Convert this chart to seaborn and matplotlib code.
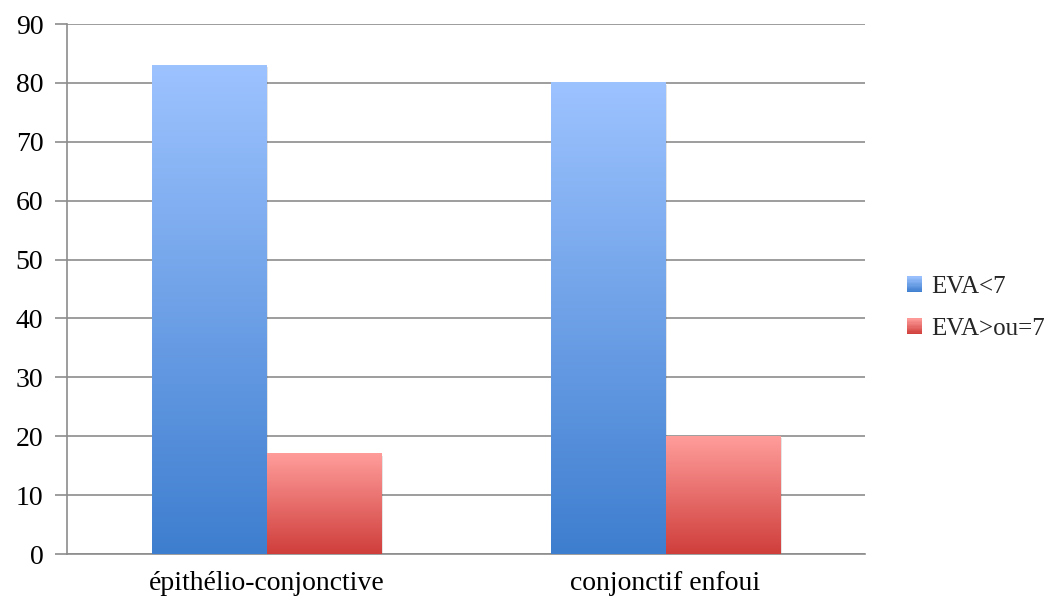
import numpy as np
import pandas as pd
import matplotlib
matplotlib.use("Agg")
import matplotlib.pyplot as plt
import seaborn as sns
from matplotlib.patches import Rectangle
from matplotlib.legend_handler import HandlerBase
from matplotlib.colors import LinearSegmentedColormap, to_hex

categories = ["épithélio-conjonctive", "conjonctif enfoui"]
series = ["EVA<7", "EVA>ou=7"]
eva_lt7 = [83, 80]
eva_ge7 = [17, 20]
yticks = [0, 10, 20, 30, 40, 50, 60, 70, 80, 90]

grad = {
    "EVA<7": ("#9dc3ff", "#3e7ecf"),
    "EVA>ou=7": ("#ff9d9b", "#cf3e3b"),
}

df = pd.DataFrame({
    "cat": categories * 2,
    "serie": [series[0]] * 2 + [series[1]] * 2,
    "val": eva_lt7 + eva_ge7,
})

sns.set_theme(style="white")
plt.rcParams["font.family"] = ["Liberation Serif", "DejaVu Serif"]
FS = 20

fig = plt.figure(figsize=(10.54, 6.01), dpi=100)
ax = fig.add_axes([67 / 1054, 47 / 601, 798 / 1054, 530 / 601])

palette = {s: grad[s][1] for s in series}
sns.barplot(data=df, x="cat", y="val", hue="serie", hue_order=series,
            order=categories, palette=palette, width=0.574, ax=ax,
            legend=False, saturation=1, linewidth=0, zorder=2)

hue_of_patch = []
for s in series:
    hue_of_patch += [s] * len(categories)
for patch, s in zip(list(ax.patches), hue_of_patch):
    x0, y0 = patch.get_x(), patch.get_y()
    w, h = patch.get_width(), patch.get_height()
    top, bot = grad[s]
    cmap = LinearSegmentedColormap.from_list("g", [bot, top])
    g = np.linspace(0, 1, 256).reshape(-1, 1)
    ax.add_patch(Rectangle((x0 + 0.005, y0), w, h - 0.3, facecolor="#000000",
                           alpha=0.10, zorder=2.5, linewidth=0))
    ax.imshow(g, cmap=cmap, origin="lower", aspect="auto",
              extent=[x0, x0 + w, y0, y0 + h], zorder=3)
    patch.set_visible(False)

ax.set_xlim(-0.5, 1.5)
ax.set_ylim(0, 90)

ax.set_yticks(yticks)
ax.set_yticklabels([str(v) for v in yticks], fontsize=FS, color="black")
ax.yaxis.grid(True, color="#8c8c8c", linewidth=1.2, zorder=1)
ax.set_axisbelow(True)

ax.set_xticks([0, 1])
ax.set_xticklabels(categories, fontsize=FS, color="black")
ax.tick_params(axis="x", length=0, pad=12)
ax.set_xticks([-0.5, 0.5, 1.5], minor=True)
ax.tick_params(axis="x", which="minor", length=8, width=1.2, color="#8c8c8c", direction="out")
ax.tick_params(axis="y", length=9, width=1.2, color="#8c8c8c", direction="out", pad=8, left=True)

ax.set_xlabel("")
ax.set_ylabel("")
for side in ["top", "right"]:
    ax.spines[side].set_visible(False)
for side in ["left", "bottom"]:
    ax.spines[side].set_color("#8c8c8c")
    ax.spines[side].set_linewidth(1.2)


class GradHandle:
    def __init__(self, top, bot):
        self.top, self.bot = top, bot


class HandlerGrad(HandlerBase):
    def create_artists(self, legend, orig_handle, xdescent, ydescent, width,
                       height, fontsize, trans):
        cmap = LinearSegmentedColormap.from_list("g", [orig_handle.bot, orig_handle.top])
        n = 12
        arts = []
        for i in range(n):
            r = Rectangle((-xdescent, -ydescent + height * i / n), width, height / n + 0.3,
                          facecolor=to_hex(cmap((i + 0.5) / n)), edgecolor="none",
                          transform=trans)
            arts.append(r)
        return arts


handles = [GradHandle(*grad[s]) for s in series]
fig.legend(handles, series, handler_map={GradHandle: HandlerGrad()},
           loc="center left", bbox_to_anchor=(907 / 1054, 1 - 308 / 601),
           frameon=False, fontsize=18, handlelength=0.6, handleheight=0.6,
           labelspacing=0.8, handletextpad=0.35, borderpad=0, borderaxespad=0)

fig.savefig("out.png", dpi=100)
